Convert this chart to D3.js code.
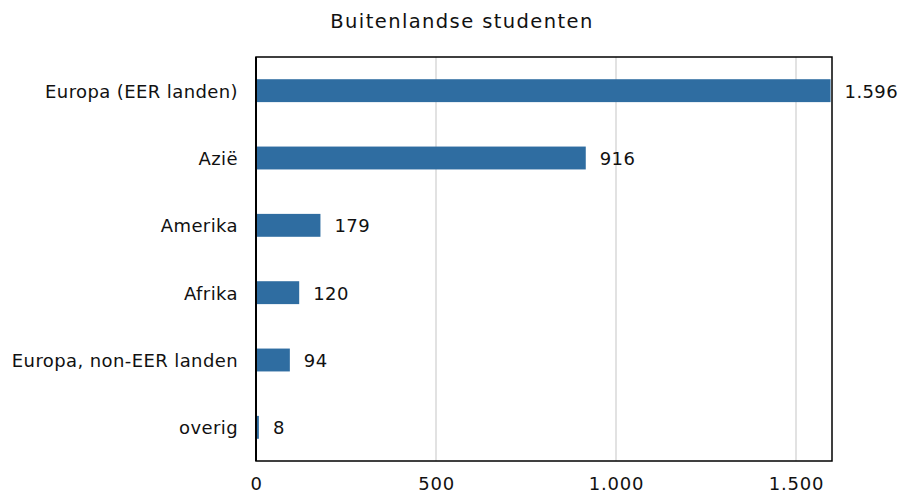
<!DOCTYPE html>
<html>
<head>
<meta charset="utf-8">
<script src="https://cdn.jsdelivr.net/npm/d3@7"></script>
<style>
  body { margin: 0; background: #fff; }
  text { font-family: "DejaVu Sans", Verdana, sans-serif; fill: #111; }
</style>
</head>
<body>
<div id="chart"></div>
<script>
// data
var categories = ["Europa (EER landen)", "Azië", "Amerika", "Afrika", "Europa, non-EER landen", "overig"];
var values = [1596, 916, 179, 120, 94, 8];
var tickValues = [0, 500, 1000, 1500];
var title = "Buitenlandse studenten";

var width = 901, height = 495;
var margin = {top: 57, right: 69, bottom: 34, left: 256};

var fmt = function(v) { return d3.format(",")(v).replace(/,/g, "."); };

var svg = d3.select("#chart").append("svg")
    .attr("width", width)
    .attr("height", height);

var x = d3.scaleLinear().domain([0, 1600]).range([margin.left, width - margin.right]);
var y = d3.scaleBand().domain(categories).range([margin.top, height - margin.bottom]).paddingInner(0.66).paddingOuter(0.33);

// gridlines
svg.append("g").selectAll("line")
    .data(tickValues.slice(1))
    .enter().append("line")
    .attr("x1", function(d) { return x(d); })
    .attr("x2", function(d) { return x(d); })
    .attr("y1", margin.top)
    .attr("y2", height - margin.bottom)
    .attr("stroke", "#d9d9d9")
    .attr("stroke-width", 1.5);

// bars
svg.append("g").selectAll("rect")
    .data(values)
    .enter().append("rect")
    .attr("x", x(0))
    .attr("y", function(d, i) { return y(categories[i]); })
    .attr("width", function(d) { return x(d) - x(0); })
    .attr("height", y.bandwidth())
    .attr("fill", "#2f6da1");

// value labels
svg.append("g").selectAll("text")
    .data(values)
    .enter().append("text")
    .attr("x", function(d) { return x(d) + 14; })
    .attr("y", function(d, i) { return y(categories[i]) + y.bandwidth() / 2; })
    .attr("dy", "0.38em")
    .style("font-size", "18px")
    .style("letter-spacing", "0.4px")
    .text(function(d) { return fmt(d); });

// frame
svg.append("rect")
    .attr("x", margin.left)
    .attr("y", margin.top)
    .attr("width", width - margin.right - margin.left)
    .attr("height", height - margin.bottom - margin.top)
    .attr("fill", "none")
    .attr("stroke", "#000")
    .attr("stroke-width", 1.5);
svg.append("line")
    .attr("x1", margin.left).attr("x2", margin.left)
    .attr("y1", margin.top).attr("y2", height - margin.bottom)
    .attr("stroke", "#000").attr("stroke-width", 2);

// y axis labels
var yAxis = d3.axisLeft(y).tickSize(0).tickPadding(18);
svg.append("g")
    .attr("transform", "translate(" + margin.left + ",0)")
    .call(yAxis)
    .call(function(g) { g.select(".domain").remove(); })
    .selectAll("text")
    .attr("dy", "0.38em")
    .style("font-size", "18px")
    .style("letter-spacing", "0.4px")
    .style("font-family", "DejaVu Sans, Verdana, sans-serif")
    .attr("fill", "#111");

// x axis labels
var xAxis = d3.axisBottom(x).tickValues(tickValues).tickSize(0).tickPadding(16).tickFormat(fmt);
svg.append("g")
    .attr("transform", "translate(0," + (height - margin.bottom) + ")")
    .call(xAxis)
    .call(function(g) { g.select(".domain").remove(); })
    .selectAll("text")
    .style("font-size", "18px")
    .style("letter-spacing", "0.8px")
    .style("font-family", "DejaVu Sans, Verdana, sans-serif")
    .attr("fill", "#111");

// title
svg.append("text")
    .attr("x", 462)
    .attr("y", 28)
    .attr("text-anchor", "middle")
    .style("font-size", "19.5px")
    .style("letter-spacing", "1.4px")
    .text(title);
</script>
</body>
</html>
